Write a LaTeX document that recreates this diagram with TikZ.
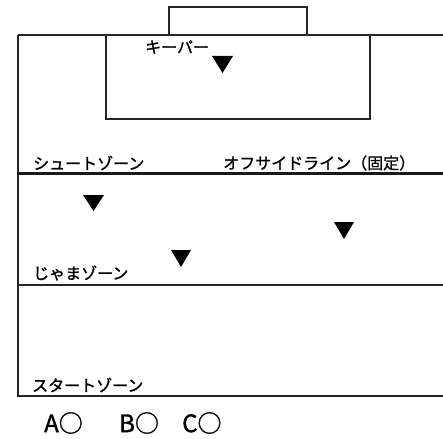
\documentclass[tikz,border=0pt]{standalone}
\usepackage{fontspec}
\newfontfamily\jpfont{Noto Sans CJK JP}[FakeBold=1.3]
\begin{document}
\begin{tikzpicture}[x=1pt,y=-1pt,
  fieldline/.style={draw=black!85, line width=1.4pt},
  thickline/.style={draw=black!90, line width=3pt},
  zonelabel/.style={anchor=west, inner sep=0pt, font=\jpfont\fontsize{16}{16}\selectfont},
  playerlabel/.style={anchor=west, inner sep=0pt, font=\jpfont\fontsize{24}{24}\selectfont},
  marker/.style={fill=black}]
\useasboundingbox (0,0) rectangle (443,438);
% goal
\draw[fieldline] (169,35) -- (169,7) -- (307,7) -- (307,35);
% top line
\draw[fieldline] (18,35) -- (443,35);
% left line
\draw[fieldline] (18,35) -- (18,396);
% penalty box
\draw[fieldline] (106,35) -- (106,119) -- (370,119) -- (370,35);
% offside line
\draw[thickline] (17.3,173) -- (443,173);
% jama line
\draw[fieldline] (18,285) -- (443,285);
% bottom line
\draw[fieldline] (17.3,396) -- (443,396);
% labels
\node[zonelabel] (keeper) at (145,47) {キーパー};
\node[zonelabel] (shoot) at (33,163) {シュートゾーン};
\node[zonelabel] (offside) at (223,163) {オフサイドライン（固定）};
\node[zonelabel] (jama) at (33,273) {じゃまゾーン};
\node[zonelabel] (start) at (32,385) {スタートゾーン};
\node[playerlabel] (pa) at (44,423) {A○};
\node[playerlabel] (pb) at (119,423) {B○};
\node[playerlabel] (pc) at (182,423) {C○};
% markers
\fill[marker] (212,56) -- (233,56) -- (222.5,73) -- cycle;
\fill[marker] (83,195) -- (104,195) -- (93.5,211) -- cycle;
\fill[marker] (334,222) -- (354,222) -- (344,239) -- cycle;
\fill[marker] (171,250) -- (191,250) -- (181,267) -- cycle;
\end{tikzpicture}
\end{document}
